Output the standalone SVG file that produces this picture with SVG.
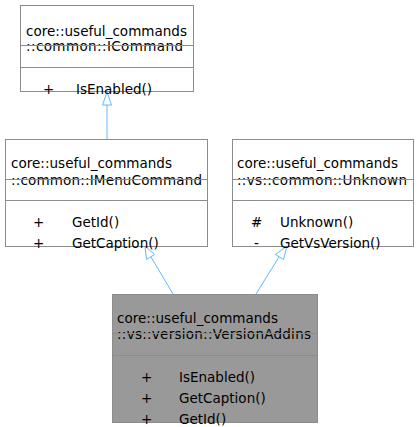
<svg xmlns="http://www.w3.org/2000/svg" width="418" height="427" viewBox="0 0 418 427">
<style>
  .box { fill: #ffffff; stroke: #8c8c8c; stroke-width: 1; }
  .cur { fill: #999999; stroke: #8c8c8c; stroke-width: 1; }
  .sep { stroke: #8c8c8c; stroke-width: 1; fill: none; }
  text { font-family: "DejaVu Sans", Verdana, sans-serif; font-size: 13.5px; fill: #000000; }
  .edge { stroke: #63b8ff; stroke-width: 1; fill: none; }
  .head { fill: #ffffff; stroke: #63b8ff; stroke-width: 1; }
</style>
<rect width="418" height="427" fill="#ffffff"/>

<g id="connectors">
  <path class="edge" d="M107,139 L107,104"/>
  <polygon class="head" points="107,92 102.5,105 111.5,105"/>
  <path class="edge" d="M173,294 L151,257"/>
  <polygon class="head" points="145,246 146.5,259.5 154.5,254.5"/>
  <path class="edge" d="M256,294 L279,257"/>
  <polygon class="head" points="287,246 275.5,254.5 283.5,259.5"/>
</g>

<g id="ICommand">
  <rect class="box" x="20.5" y="5.5" width="173" height="86"/>
  <text x="26" y="36" textLength="161" lengthAdjust="spacing">core::useful_commands</text>
  <text x="26" y="51" textLength="157" lengthAdjust="spacing">::common::ICommand</text>
  <line class="sep" x1="20.5" y1="45.5" x2="193.5" y2="45.5"/>
  <line class="sep" x1="20.5" y1="67.5" x2="193.5" y2="67.5"/>
  <text x="43" y="94">+</text>
  <text x="76" y="94">IsEnabled()</text>
</g>

<g id="IMenuCommand">
  <rect class="box" x="5.5" y="139.5" width="202" height="107"/>
  <text x="11" y="168" textLength="161" lengthAdjust="spacing">core::useful_commands</text>
  <text x="11" y="185" textLength="191" lengthAdjust="spacing">::common::IMenuCommand</text>
  <line class="sep" x1="5.5" y1="179.5" x2="207.5" y2="179.5"/>
  <line class="sep" x1="5.5" y1="200.5" x2="207.5" y2="200.5"/>
  <text x="33" y="227">+</text>
  <text x="72" y="227">GetId()</text>
  <text x="33" y="248">+</text>
  <text x="72" y="248">GetCaption()</text>
</g>

<g id="Unknown">
  <rect class="box" x="232.5" y="139.5" width="181" height="107"/>
  <text x="237" y="168" textLength="161" lengthAdjust="spacing">core::useful_commands</text>
  <text x="237" y="185" textLength="170" lengthAdjust="spacing">::vs::common::Unknown</text>
  <line class="sep" x1="232.5" y1="179.5" x2="413.5" y2="179.5"/>
  <line class="sep" x1="232.5" y1="200.5" x2="413.5" y2="200.5"/>
  <text x="251" y="227">#</text>
  <text x="280" y="227">Unknown()</text>
  <text x="254" y="248">-</text>
  <text x="280" y="248">GetVsVersion()</text>
</g>

<g id="VersionAddins">
  <rect class="cur" x="112.5" y="294.5" width="205" height="128"/>
  <text x="117" y="323" textLength="161" lengthAdjust="spacing">core::useful_commands</text>
  <text x="117" y="339" textLength="194" lengthAdjust="spacing">::vs::version::VersionAddins</text>
  <line class="sep" x1="112.5" y1="333.5" x2="317.5" y2="333.5"/>
  <line class="sep" x1="112.5" y1="355.5" x2="317.5" y2="355.5"/>
  <text x="141" y="382">+</text>
  <text x="179" y="382">IsEnabled()</text>
  <text x="141" y="403">+</text>
  <text x="179" y="403">GetCaption()</text>
  <text x="141" y="424">+</text>
  <text x="179" y="424">GetId()</text>
</g>
</svg>
